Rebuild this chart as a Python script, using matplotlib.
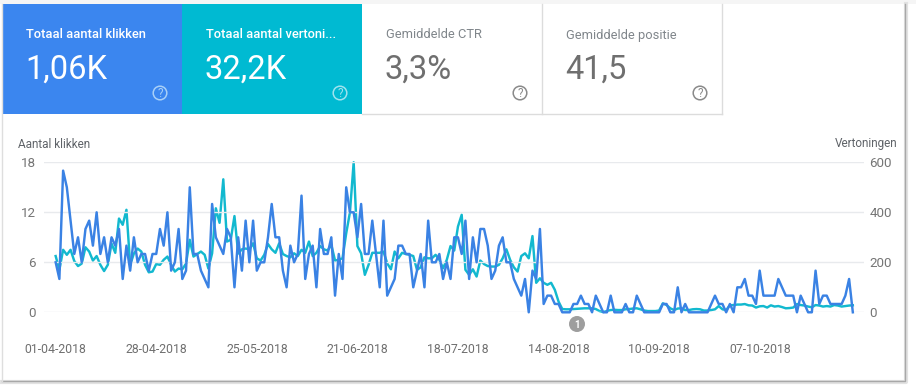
import numpy as np
import pandas as pd
import matplotlib
matplotlib.use('Agg')
import matplotlib.pyplot as plt
from matplotlib.patches import Rectangle, Circle

plt.rcParams['font.family'] = ['Roboto', 'DejaVu Sans']

klikken = [6, 4, 17, 15, 11, 7, 9, 6, 10, 11, 8, 12, 7, 9, 6, 9, 8, 10, 4, 8, 5, 9, 6, 7, 7, 5, 7, 7, 10, 8,
           12, 5, 6, 10, 4, 5, 15, 7, 7, 5, 4, 3, 13, 9, 8, 7, 10, 9, 3, 9, 5, 11, 6, 11, 5, 6, 6, 9, 13, 9,
           9, 5, 3, 8, 6, 7, 14, 4, 7, 8, 3, 10, 7, 7, 9, 2, 7, 4, 15, 12, 12, 9, 13, 7, 7, 11, 7, 3, 11, 2,
           3, 4, 8, 8, 7, 7, 3, 5, 7, 3, 11, 6, 6, 7, 4, 6, 4, 9, 9, 7, 11, 4, 9, 6, 10, 10, 8, 4, 5, 8,
           9, 6, 6, 4, 3, 2, 4, 0, 5, 4, 10, 1, 2, 2, 1, 1, 0, 0, 0, 1, 1, 2, 1, 1, 0, 2, 1, 0, 0, 2,
           0, 0, 0, 1, 0, 0, 2, 1, 0, 0, 0, 0, 0, 1, 1, 0, 0, 3, 0, 1, 0, 0, 0, 0, 0, 0, 1, 2, 1, 1,
           0, 1, 0, 3, 3, 4, 2, 2, 1, 5, 2, 2, 2, 2, 4, 3, 2, 2, 2, 0, 2, 1, 0, 0, 5, 1, 2, 2, 1, 1,
           1, 1, 2, 4, 0]
vertoningen = [225, 170, 250, 230, 250, 205, 185, 195, 260, 243, 207, 225, 190, 165, 190, 275, 238, 375, 350, 410,
               190, 235, 255, 243, 190, 160, 163, 193, 190, 210, 223, 190, 163, 175, 172, 195, 290, 223, 233, 243,
               230, 175, 236, 416, 358, 532, 283, 290, 385, 235, 252, 255, 252, 276, 216, 207, 230, 273, 252, 238,
               276, 233, 225, 220, 236, 225, 250, 238, 283, 225, 238, 265, 252, 247, 270, 207, 210, 216, 316, 400,
               600, 265, 236, 150, 190, 238, 238, 238, 243, 196, 172, 243, 216, 238, 233, 230, 225, 170, 180, 220,
               216, 216, 230, 210, 176, 210, 265, 247, 343, 390, 170, 150, 172, 143, 207, 193, 185, 183, 183, 190,
               216, 252, 210, 180, 163, 225, 236, 216, 305, 118, 136, 118, 110, 118, 90, 43, 13, 12, 12, 13,
               14, 15, 16, 16, 16, 13, 5, 1, 5, 9, 10, 9, 9, 12, 13, 15, 16, 12, 7, 5,
               5, 5, 7, 36, 29, 16, 9, 15, 16, 9, 9, 12, 13, 12, 7, 7, 9, 12, 25, 12,
               9, 28, 29, 31, 31, 33, 28, 27, 19, 24, 25, 19, 28, 23, 25, 21, 16, 17, 19, 33,
               29, 27, 23, 20, 29, 27, 23, 25, 23, 29, 27, 23, 25, 27, 28]
datums = pd.date_range('2018-04-01', periods=len(klikken))
tick_labels = ['01-04-2018', '28-04-2018', '25-05-2018', '21-06-2018', '18-07-2018',
               '14-08-2018', '10-09-2018', '07-10-2018']
yticks_klik = [0, 6, 12, 18]
yticks_vert = [0, 200, 400, 600]
tegels = [('Totaal aantal klikken', '1,06K'), ('Totaal aantal vertoni...', '32,2K'),
          ('Gemiddelde CTR', '3,3%'), ('Gemiddelde positie', '41,5')]

W, H = 916, 386
fig = plt.figure(figsize=(W / 100, H / 100), dpi=100, facecolor='white')

# overlay in pixels voor kaart en tegels
bg = fig.add_axes([0, 0, 1, 1])
bg.set_xlim(0, W)
bg.set_ylim(H, 0)
bg.axis('off')
bg.add_patch(Rectangle((0, 0), W, 4, fc='#f5f5f5', ec='none'))
bg.plot([2, 906, 906], [381.5, 381.5, 4], color='#e2e2e2', lw=3)
bg.plot([2, 905, 905], [381, 381, 4], color='#a8a8a8', lw=1)
bg.plot([1.5, 1.5], [4, 381], color='#dedede', lw=1)

kleuren = ['#3b86ef', '#00bad2', 'white', 'white']
for i, (titel, waarde) in enumerate(tegels):
    x0 = 2 + i * 180
    bg.add_patch(Rectangle((x0, 4), 180, 110, fc=kleuren[i], ec='none'))
    c1 = 'white' if i < 2 else '#80868b'
    c2 = 'white' if i < 2 else '#6f6f6f'
    bg.text(x0 + 24, 35, titel, color=c1, fontsize=9.25, va='center',
            fontweight='medium' if i < 2 else 'normal')
    bg.text(x0 + 23, 70, waarde, color=c2, fontsize=23.5, va='center')
    ic = '#a8d0f8' if i == 0 else '#9fe3ee' if i == 1 else '#8a8a8a'
    bg.add_patch(Circle((x0 + 158, 93), 6.8, fc='none', ec=ic, lw=1.1))
    bg.text(x0 + 158, 93.5, '?', color=ic, fontsize=8.5, ha='center', va='center')
    if i >= 2:
        bg.plot([x0 + 180, x0 + 180], [4, 114], color='#dcdcdc', lw=1)
bg.plot([362, 722], [114, 114], color='#dcdcdc', lw=1)

bg.text(18, 144, 'Aantal klikken', color='#5f6368', fontsize=8.5, va='center')
bg.text(897, 144, 'Vertoningen', color='#5f6368', fontsize=8.5, va='center', ha='right')
bg.add_patch(Circle((577, 324), 8, fc='#9e9e9e', ec='none'))
bg.text(577, 324.5, '1', color='white', fontsize=7, ha='center', va='center', fontweight='bold')

ax = fig.add_axes([44 / W, 1 - 312.3 / H, 820 / W, 150 / H])
ax.patch.set_alpha(0)
ax2 = ax.twinx()
ax2.set_zorder(1)
ax.set_zorder(2)

ax2.plot(datums, vertoningen, color='#12b9cf', lw=1.75, solid_joinstyle='round', clip_on=False)
ax.plot(datums, klikken, color='#3a82e4', lw=1.75, solid_joinstyle='round', clip_on=False)

ax.set_xlim(datums[0] - pd.Timedelta(days=3.13), datums[0] + pd.Timedelta(days=217))
ax.set_ylim(0, 18)
ax2.set_ylim(0, 600)
ax.set_yticks(yticks_klik)
ax2.set_yticks(yticks_vert)
ax.set_xticks(datums[::27][:len(tick_labels)])
ax.set_xticklabels(tick_labels)
ax.grid(axis='y', color='#e8eaed', lw=1)
ax.set_axisbelow(True)
for a in (ax, ax2):
    for s in a.spines.values():
        s.set_visible(False)
ax.tick_params(axis='y', length=0, pad=6, labelsize=9.6, labelcolor='#757575')
ax2.tick_params(axis='y', length=0, pad=4, labelsize=9.6, labelcolor='#757575')
ax.tick_params(axis='x', length=0, pad=22, labelsize=8.8, labelcolor='#6f6f6f')

fig.savefig('out.png', dpi=100, facecolor=fig.get_facecolor())
